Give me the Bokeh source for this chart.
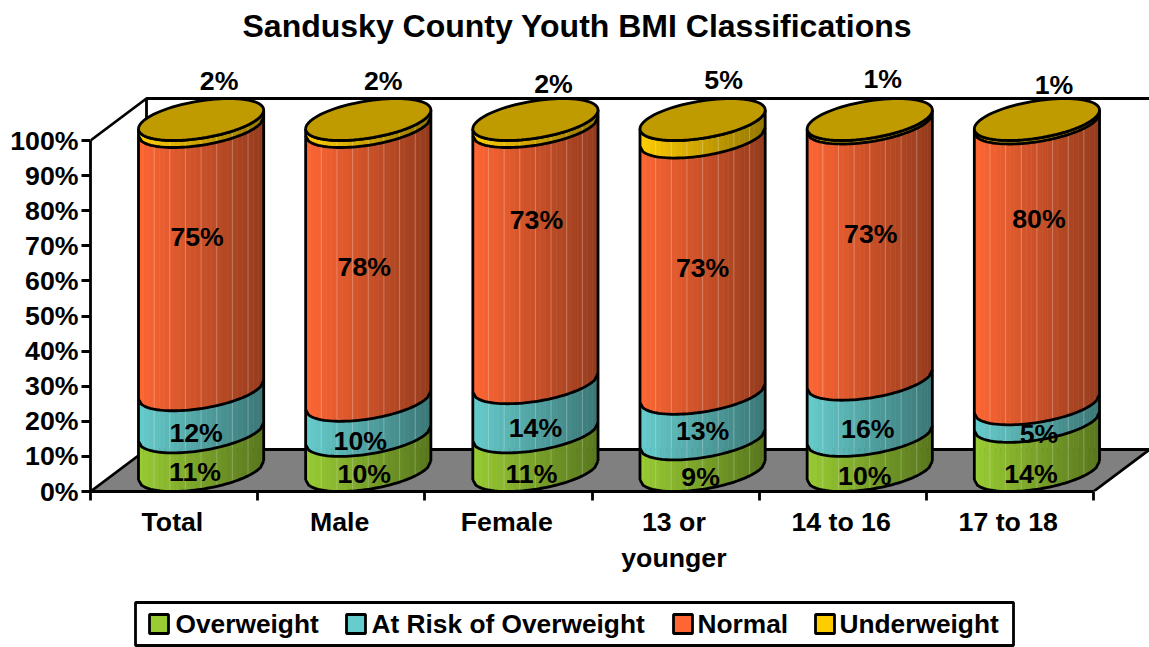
import math
from bokeh.plotting import figure
from bokeh.layouts import column
from bokeh.models import ColumnDataSource, FixedTicker, Range1d
from bokeh.core.properties import value
from bokeh.embed import file_html
from bokeh.resources import INLINE

# ---- data ----
categories = ["Total", "Male", "Female", "13 or\nyounger", "14 to 16", "17 to 18"]
overweight = [11, 10, 11, 9, 10, 14]
at_risk = [12, 10, 14, 13, 16, 5]
normal = [75, 78, 73, 73, 73, 80]
underweight = [2, 2, 2, 5, 1, 1]
series_names = ["Overweight", "At Risk of Overweight", "Normal", "Underweight"]
y_ticks = list(range(0, 101, 10))

# ---- styling ----
series_colors = [(0x99, 0xCC, 0x33), (0x66, 0xCC, 0xCC), (0xFF, 0x66, 0x33), (0xFF, 0xCC, 0x00)]
cap_color = "#C09B00"
FONT = "Liberation Sans"
FS = "26.7px"
LEGEND_FS = "26.3px"
LW = 2.8

# hand placed label nudges of the original chart, in pixels from the default place
nudge_x = [[-6, -4, -4, -2, -5, -6], [-5, -8, 0, 0, -2, 2], [-4, -4, 1, 0, 1, 2], [18, 15, 18, 21, 13, 17]]
nudge_y = [[0, 0, 2, 1, 2, 7], [1, 2, 0, -6, 1, 0], [-42, -17, -56, -18, -38, -65], [-63, -63, -60, -69, -63, -57]]

# legend layout, in pixels of the legend strip
legend_square_x = [149, 346, 673, 815]
legend_text_x = [175, 371, 697, 839]

# ---- geometry of the oblique projection ----
W, H = 1149, 647
H1 = 596              # height of the chart part, the legend strip is below it
LEFT, BOTTOM_PX, TOP_PX = 90, 491, 45
PXX = 167.17          # pixels per category
PXY = 3.51            # pixels per percent
DEPTH_X, DEPTH_Y = 56, 42
A, D, E = 56.0, 28.0, 21.0      # cylinder's ellipse
PHI = math.atan2(D, A)
CX_SHIFT = 27.0
K = 24


def cyl_point(i, level, t):
    cx = i + 0.5 + CX_SHIFT / PXX
    return (cx + (A * math.cos(t) + D * math.sin(t)) / PXX,
            level + (E + E * math.sin(t)) / PXY)


def front_t(f):
    return PHI + math.pi + math.acos(max(-1, min(1, 1 - 2 * f)))


def arc(i, level, f0=0.0, f1=1.0, n=40):
    pts = [cyl_point(i, level, front_t(f0 + (f1 - f0) * j / n)) for j in range(n + 1)]
    return [p[0] for p in pts], [p[1] for p in pts]


def shade(rgb, f):
    k = 1.0 - 0.42 * f
    return "#%02x%02x%02x" % tuple(int(round(c * k)) for c in rgb)


y_end = (BOTTOM_PX - TOP_PX) / PXY
x_end = (W - LEFT) / PXX

p = figure(width=W, height=H1, output_backend="svg", toolbar_location=None,
           x_range=Range1d(0, x_end), y_range=Range1d(0, y_end),
           min_border_left=LEFT, min_border_right=0, min_border_top=TOP_PX,
           min_border_bottom=H1 - BOTTOM_PX, margin=0,
           outline_line_color=None, background_fill_color="white",
           title="Sandusky County Youth BMI Classifications")
p.grid.visible = False
p.title.text_font = FONT
p.title.text_font_size = "32px"
p.title.text_font_style = "bold"
p.title.text_color = "black"
p.title.align = "left"
p.title.offset = 152
p.title.standoff = 3

# axes
ya = p.yaxis[0]
ya.bounds = (0, 100)
ya.ticker = FixedTicker(ticks=y_ticks)
ya.major_label_overrides = {t: f"{t}%" for t in y_ticks}
xa = p.xaxis[0]
xa.bounds = (0, len(categories))
xa.ticker = FixedTicker(ticks=[i + 0.49 for i in range(len(categories))],
                        minor_ticks=list(range(len(categories) + 1)))
xa.major_label_overrides = {i + 0.49: c for i, c in enumerate(categories)}
for ax in (xa, ya):
    ax.axis_line_color = "black"
    ax.axis_line_width = LW
    ax.major_tick_line_color = "black"
    ax.major_tick_line_width = LW
    ax.major_label_text_font = FONT
    ax.major_label_text_font_size = FS
    ax.major_label_text_font_style = "bold"
    ax.major_label_text_color = "black"
ya.major_tick_out = 9
ya.major_tick_in = 0
ya.minor_tick_line_color = None
ya.major_label_standoff = 3
xa.major_tick_out = 0
xa.major_tick_in = 0
xa.minor_tick_out = 9
xa.minor_tick_in = 0
xa.minor_tick_line_color = "black"
xa.minor_tick_line_width = LW
xa.major_label_standoff = 6

# floor and back wall
n = len(categories)
ox, oy = DEPTH_X / PXX, DEPTH_Y / PXY
p.patch([0, n, n + ox, ox], [0, 0, oy, oy], fill_color="#808080", line_color="black", line_width=LW)
p.multi_line([[0, ox, n + ox], [ox, ox]], [[100, 100 + oy, 100 + oy], [100 + oy, oy]],
             line_color="black", line_width=LW)

# cylinders
series = [overweight, at_risk, normal, underweight]
sx, sy, sc = [], [], []
hx, hy = [], []
lx, ly = [], []
for i in range(n):
    base = 0
    levels = [0]
    for s, rgb in zip(series, series_colors):
        top = base + s[i]
        for k in range(K):
            f0, f1 = k / K, (k + 1) / K
            ax_, ay_ = arc(i, base, f0, f1, 4)
            bx_, by_ = arc(i, top, f0, f1, 4)
            sx.append(ax_ + bx_[::-1])
            sy.append(ay_ + by_[::-1])
            sc.append(shade(rgb, (k + 0.5) / K))
        base = top
        levels.append(top)
    # thin light facet lines
    for k in range(1, K):
        if k % 3 == 0:
            x0, y0 = cyl_point(i, 0, front_t(k / K))
            x1, y1 = cyl_point(i, 100, front_t(k / K))
            hx.append([x0, x1])
            hy.append([y0, y1])
    for lev in levels:
        ax_, ay_ = arc(i, lev)
        lx.append(ax_)
        ly.append(ay_)
    l0 = cyl_point(i, 0, front_t(0))
    l1 = cyl_point(i, 100, front_t(0))
    r0 = cyl_point(i, 0, front_t(1))
    r1 = cyl_point(i, 100, front_t(1))
    lx += [[l0[0], l1[0]], [r0[0], r1[0]]]
    ly += [[l0[1], l1[1]], [r0[1], r1[1]]]

p.patches("xs", "ys", source=ColumnDataSource(dict(xs=sx, ys=sy, c=sc)),
          fill_color="c", line_color="c", line_width=0.6)
p.multi_line(hx, hy, line_color="white", line_alpha=0.22, line_width=1.2)
p.multi_line(lx, ly, line_color="black", line_width=LW, line_join="round")

cap = [[cyl_point(i, 100, 2 * math.pi * j / 80) for j in range(81)] for i in range(n)]
p.patches([[q[0] for q in c] for c in cap], [[q[1] for q in c] for c in cap],
          fill_color=cap_color, line_color="black", line_width=LW)

# data labels
tx, ty, tt = [], [], []
for si, s in enumerate(series):
    for i in range(n):
        below = sum(series[j][i] for j in range(si))
        mid = below + s[i] / 2
        tx.append(i + 0.5 + (CX_SHIFT + nudge_x[si][i]) / PXX)
        ty.append(mid - nudge_y[si][i] / PXY)
        tt.append(f"{s[i]}%")
p.text(tx, ty, text=tt, text_font=value(FONT), text_font_size=value(FS), text_font_style="bold",
       text_color="black", text_align="center", text_baseline="middle")

# legend strip: the column lines its frame up with the chart's frame, so x starts at LEFT
q = figure(width=W, height=H - H1, output_backend="svg", toolbar_location=None,
           x_range=Range1d(LEFT, W), y_range=Range1d(H - H1, 0),
           min_border=0, margin=0, outline_line_color=None, x_axis_location=None, y_axis_location=None)
q.grid.visible = False
q.quad(left=[135], right=[1013], top=[6], bottom=[49], fill_color="white", line_color="black", line_width=LW)
q.quad(left=legend_square_x, right=[x + 19 for x in legend_square_x], top=[18] * 4, bottom=[37] * 4,
       fill_color=["#%02x%02x%02x" % c for c in series_colors], line_color="black", line_width=LW)
q.text(legend_text_x, [27] * 4, text=series_names, text_font=value(FONT), text_font_size=value(LEGEND_FS),
       text_font_style="bold", text_color="black", text_align="left", text_baseline="middle")

page = column(p, q, spacing=0, margin=0)
open("out.html", "w").write(file_html(page, INLINE))
